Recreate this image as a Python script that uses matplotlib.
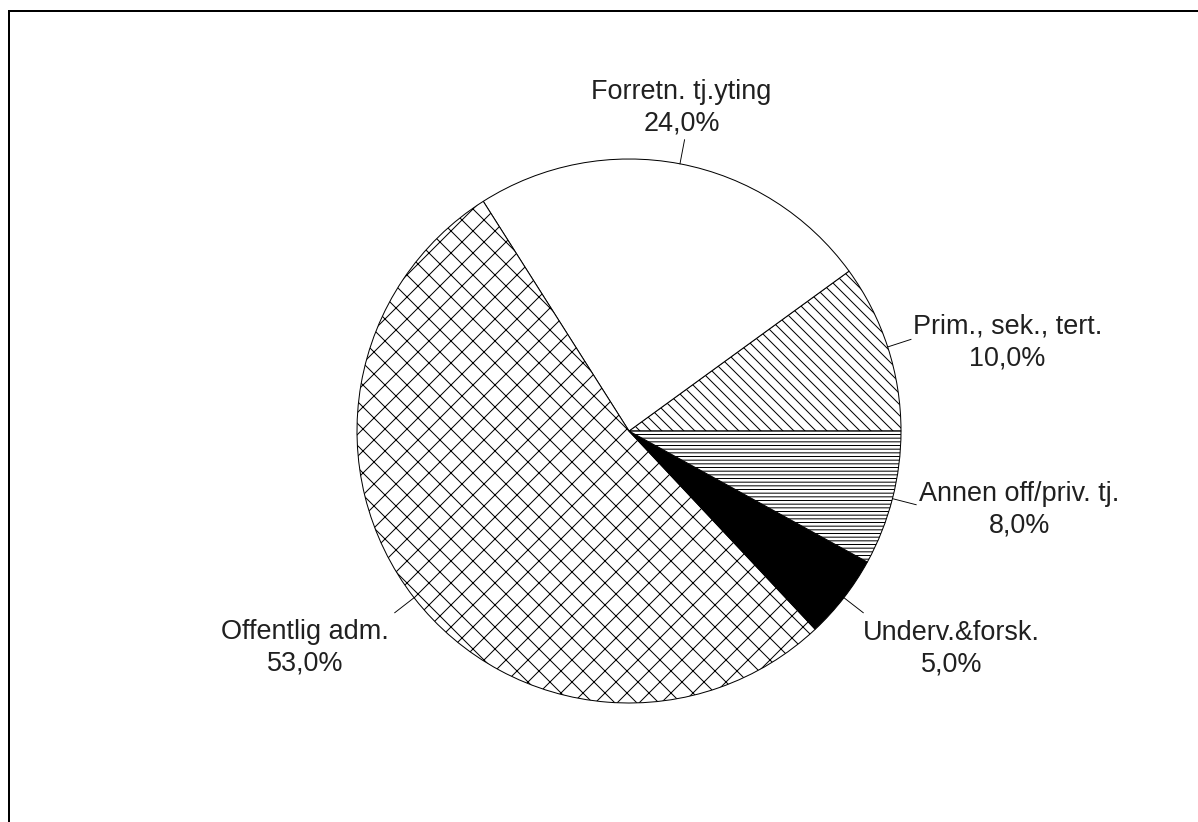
import numpy as np
import matplotlib
matplotlib.use("Agg")
import matplotlib.pyplot as plt
from matplotlib.lines import Line2D

labels = ["Prim., sek., tert.", "Forretn. tj.yting", "Offentlig adm.", "Underv.&forsk.", "Annen off/priv. tj."]
values = [10.0, 24.0, 53.0, 5.0, 8.0]
hatches = ["\\\\", "", "x", "", "---"]
facecolors = ["white", "white", "white", "black", "white"]

DPI = 66
W, H = 1198, 822
plt.rcParams["font.family"] = ["Liberation Sans", "DejaVu Sans"]
plt.rcParams["hatch.linewidth"] = 1.1

fig = plt.figure(figsize=(W / DPI, H / DPI), dpi=DPI)
cx, cy, R = 629, 431, 272
ax = fig.add_axes([(cx - R) / W, (H - cy - R) / H, 2 * R / W, 2 * R / H])

wedges, _ = ax.pie(values, startangle=0, counterclock=True, colors=facecolors,
                   radius=1.0, wedgeprops=dict(edgecolor="black", linewidth=1.1))
for w, h in zip(wedges, hatches):
    if h:
        w.set_hatch(h)
ax.set_xlim(-1, 1)
ax.set_ylim(-1, 1)
ax.set_aspect("equal")
ax.axis("off")

# label placement per slice: (ha, va, dx, dy in pixels)
place = [("left", "center", 2, -3),
         ("center", "bottom", -3, 3),
         ("right", "top", -6, -6),
         ("left", "top", 0, -7),
         ("left", "center", 3, -5)]

for w, lab, v, (ha, va, dx, dy) in zip(wedges, labels, values, place):
    mid = np.deg2rad((w.theta1 + w.theta2) / 2)
    x0, y0 = np.cos(mid), np.sin(mid)
    x1, y1 = 1.09 * x0, 1.09 * y0
    ax.plot([x0, x1], [y0, y1], color="black", lw=1.0, clip_on=False)
    txt = f"{lab}\n{v:.1f}%".replace(".0%", ",0%")
    ax.annotate(txt, xy=(x1, y1), xytext=(dx, dy), textcoords="offset pixels",
                ha=ha, va=va, multialignment="center", fontsize=29.5,
                linespacing=1.28, color="#202020", annotation_clip=False)

# outer frame (only left and top edges are inside the image)
lw = 2 * 72 / DPI
fig.add_artist(Line2D([8.5 / W, 8.5 / W], [0, 1 - 11 / H], transform=fig.transFigure,
                      color="black", lw=lw))
fig.add_artist(Line2D([8.5 / W, 1], [1 - 11 / H, 1 - 11 / H], transform=fig.transFigure,
                      color="black", lw=lw))

fig.savefig("out.png", dpi=DPI, facecolor="white")
